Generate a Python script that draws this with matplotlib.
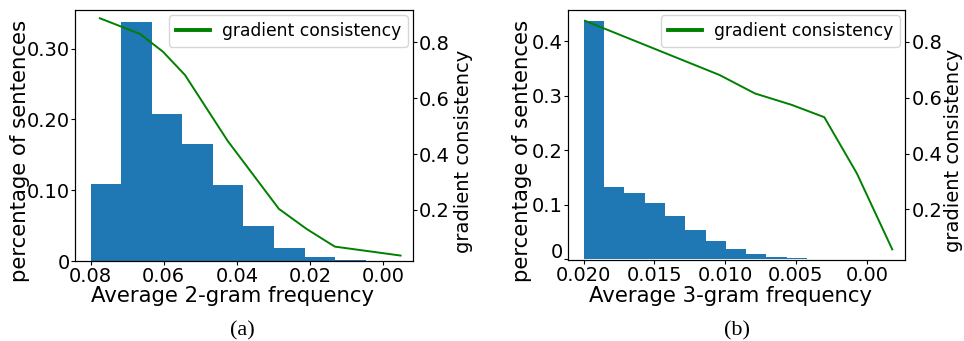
import matplotlib
matplotlib.use("Agg")
import matplotlib.pyplot as plt
import matplotlib.transforms as mtransforms
import numpy as np

# (a) 2-gram histogram
BIGRAM_EDGES = list(np.linspace(0.08, -0.0036, 11))
BIGRAM_SHARE = [0.1085, 0.3377, 0.2073, 0.1658, 0.1078, 0.0497, 0.0188, 0.0052, 0.0014, 0.0005]
BIGRAM_GC_X = [0.0775, 0.0665, 0.0602, 0.0542, 0.0425, 0.0285, 0.0209, 0.0132, -0.0048]
BIGRAM_GC_Y = [0.886, 0.830, 0.766, 0.683, 0.447, 0.204, 0.132, 0.069, 0.037]

# (b) 3-gram histogram
TRIGRAM_EDGES = list(np.linspace(0.020, 0.00134, 14))
TRIGRAM_SHARE = [0.437, 0.132, 0.121, 0.104, 0.080, 0.054, 0.033, 0.018, 0.0104,
                 0.0037, 0.0018, 0.0008, 0.0004]
TRIGRAM_GC_X = [0.0199, 0.0104, 0.0079, 0.0053, 0.0030, 0.0007, -0.0018]
TRIGRAM_GC_Y = [0.875, 0.681, 0.615, 0.574, 0.530, 0.329, 0.057]

BAR_COLOR = "#1f77b4"
LINE_COLOR = "green"
TICK_SIZE = 14
LABEL_SIZE = 15.3


def draw_panel(fig, rect, edges, share, gc_x, gc_y, xlabel, xticks, xticklabels,
               yticks, yticklabels, xlim, ylim, gc_ylim, label_pos, zero_shift=0.0):
    ax = fig.add_axes(rect)
    edges = np.asarray(edges)
    ax.bar(edges[1:], share, width=edges[:-1] - edges[1:], align="edge",
           color=BAR_COLOR)
    ax.set_xlim(*xlim)
    ax.set_ylim(*ylim)
    ax.set_xticks(xticks)
    ax.set_xticklabels(xticklabels)
    ax.set_yticks(yticks)
    ax.set_yticklabels(yticklabels)
    ax.tick_params(axis="both", labelsize=TICK_SIZE, length=3, pad=1.5)
    ax.tick_params(axis="y", pad=0.8)
    if zero_shift:
        # the "0" label sits a little above the axis corner in the original
        zero_label = ax.get_yticklabels()[0]
        offset = mtransforms.ScaledTranslation(0, zero_shift / 72, fig.dpi_scale_trans)
        zero_label.set_transform(zero_label.get_transform() + offset)
    ax.set_xlabel(xlabel, fontsize=LABEL_SIZE, va="center")
    ax.set_ylabel("percentage of sentences", fontsize=LABEL_SIZE, va="center")
    ax.xaxis.set_label_coords(*label_pos["x"])
    ax.yaxis.set_label_coords(*label_pos["y"])

    ax2 = ax.twinx()
    ax2.plot(gc_x, gc_y, color=LINE_COLOR, linewidth=1.4, label="gradient consistency")
    ax2.set_ylim(*gc_ylim)
    ax2.set_yticks([0.2, 0.4, 0.6, 0.8])
    ax2.tick_params(axis="y", labelsize=TICK_SIZE, length=3, pad=1.5)
    ax2.set_ylabel("gradient consistency", fontsize=14, va="center")
    ax2.yaxis.set_label_coords(*label_pos["y2"])
    leg = ax2.legend(loc="upper right", fontsize=12.3, borderaxespad=0.3,
                     handletextpad=0.7)
    for handle in leg.legend_handles:
        handle.set_linewidth(2.8)
    return ax, ax2


fig = plt.figure(figsize=(9.64, 3.41), dpi=100)

draw_panel(
    fig, [0.0778, 0.2346, 0.3506, 0.7361],
    BIGRAM_EDGES, BIGRAM_SHARE, BIGRAM_GC_X, BIGRAM_GC_Y,
    "Average 2-gram frequency",
    [0.08, 0.06, 0.04, 0.02, 0.00], ["0.08", "0.06", "0.04", "0.02", "0.00"],
    [0, 0.10, 0.20, 0.30], ["0", "0.10", "0.20", "0.30"],
    (0.0843, -0.0082), (0, 0.3547), (0.0175, 0.9156),
    {"x": (0.467, -0.139), "y": (-0.164, 0.439), "y2": (1.149, 0.435)},
)

draw_panel(
    fig, [0.5892, 0.2375, 0.3496, 0.7331],
    TRIGRAM_EDGES, TRIGRAM_SHARE, TRIGRAM_GC_X, TRIGRAM_GC_Y,
    "Average 3-gram frequency",
    [0.020, 0.015, 0.010, 0.005, 0.000], ["0.020", "0.015", "0.010", "0.005", "0.00"],
    [0, 0.1, 0.2, 0.3, 0.4], ["0", "0.1", "0.2", "0.3", "0.4"],
    (0.0211, -0.0027), (-0.0013, 0.4574), (0.019, 0.9134),
    {"x": (0.483, -0.144), "y": (-0.137, 0.437), "y2": (1.145, 0.44)},
    zero_shift=6,
)

fig.text(242.7 / 964, 1 - 331 / 341, "(a)", family="Liberation Serif",
         fontsize=16, ha="center", va="center")
fig.text(736.7 / 964, 1 - 331 / 341, "(b)", family="Liberation Serif",
         fontsize=16, ha="center", va="center")

fig.savefig("out.png", dpi=100)
